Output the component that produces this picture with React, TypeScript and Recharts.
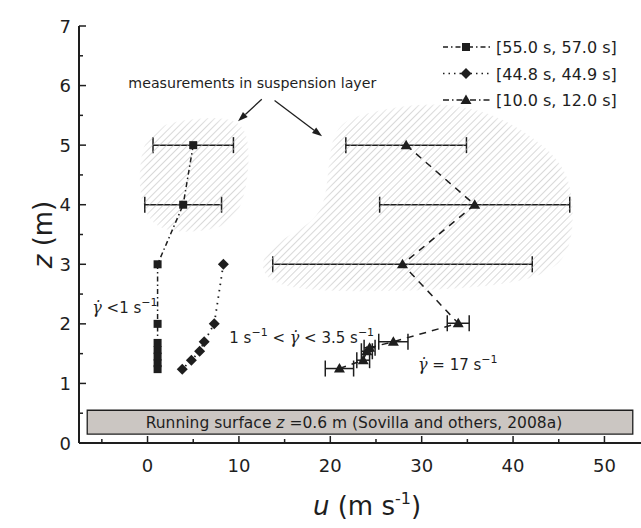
import React from 'react';
import { Curve, ErrorBar, Legend, ReferenceArea, Scatter, ScatterChart, XAxis, YAxis } from 'recharts';

const INK = '#1e1e1e';
const FONT = '"DejaVu Sans", Verdana, sans-serif';

// [55.0 s, 57.0 s]
const lateZ = [5, 4, 3, 2, 1.68, 1.56, 1.45, 1.34, 1.24];
const lateU = [5.0, 3.9, 1.1, 1.1, 1.1, 1.1, 1.1, 1.1, 1.1];
const lateErr = [4.4, 4.2, 0, 0, 0, 0, 0, 0, 0];

// [44.8 s, 44.9 s]
const midZ = [3.0, 2.0, 1.7, 1.54, 1.39, 1.24];
const midU = [8.3, 7.3, 6.2, 5.7, 4.8, 3.8];

// [10.0 s, 12.0 s]
const earlyZ = [5, 4, 3, 2.01, 1.7, 1.6, 1.54, 1.39, 1.25];
const earlyU = [28.3, 35.8, 27.9, 34.0, 26.9, 24.3, 24.0, 23.6, 21.0];
const earlyErr = [6.6, 10.4, 14.2, 1.2, 1.6, 0.6, 0.6, 0.7, 1.55];

const legendLabels = ['[55.0 s, 57.0 s]', '[44.8 s, 44.9 s]', '[10.0 s, 12.0 s]'];

const xTicks = [-5, 0, 5, 10, 15, 20, 25, 30, 35, 40, 45, 50];
const yTicks = [0, 0.5, 1, 1.5, 2, 2.5, 3, 3.5, 4, 4.5, 5, 5.5, 6, 6.5, 7];

// hatched "suspension layer" outlines, in (u, z)
const blobLeftU = [0.3, 5.7, 10.1, 11.2, 11.0, 9.6, 5.7, 1.4, -0.8, -1.0];
const blobLeftZ = [5.34, 5.47, 5.45, 5.08, 4.33, 3.66, 3.54, 3.54, 3.91, 4.75];
const blobRightU = [19.7, 24.3, 28.7, 34.2, 39.1, 43.5, 46.4, 46.7, 45.7, 41.9, 33.1, 22.2, 14.0, 12.1, 13.4, 17.2, 19.9];
const blobRightZ = [5.36, 5.55, 5.69, 5.69, 5.45, 5.0, 4.5, 3.57, 3.04, 2.7, 2.57, 2.53, 2.6, 2.94, 3.32, 3.61, 3.99];

const arrowLeft = [{ u: 12.5, z: 5.77 }, { u: 9.9, z: 5.4 }];
const arrowRight = [{ u: 13.9, z: 5.75 }, { u: 19.1, z: 5.15 }];

const notes = [
  { u: -2.1, z: 5.96, id: 'suspension' },
  { u: -6.05, z: 2.19, id: 'low' },
  { u: 8.95, z: 1.68, id: 'mid' },
  { u: 29.6, z: 1.22, id: 'high' },
  { u: -0.2, z: 0.25, id: 'surface' },
];

const surface = { u1: -6.6, u2: 53.1, z1: 0.15, z2: 0.55 };

const zip = (u: number[], z: number[], err?: number[]) =>
  u.map((v, i) => ({ u: v, z: z[i], err: err ? err[i] : 0 }));

const lateData = zip(lateU, lateZ, lateErr);
const midData = zip(midU, midZ);
const earlyData = zip(earlyU, earlyZ, earlyErr);
const blobLeft = zip(blobLeftU, blobLeftZ);
const blobRight = zip(blobRightU, blobRightZ);

const Square = ({ cx, cy }: any) => <rect x={cx - 4} y={cy - 4} width={8} height={8} fill={INK} />;
const Diamond = ({ cx, cy }: any) => (
  <polygon points={`${cx},${cy - 5.5} ${cx + 5.5},${cy} ${cx},${cy + 5.5} ${cx - 5.5},${cy}`} fill={INK} />
);
const Triangle = ({ cx, cy }: any) => (
  <polygon points={`${cx},${cy - 5.5} ${cx + 5.5},${cy + 4} ${cx - 5.5},${cy + 4}`} fill={INK} />
);
const Nothing = () => <g />;

// hatch fill with softened edges, like the reference
const hatchBlob = (id: string) => (p: any) => (
  <g>
    <defs>
      <pattern id={`${id}-p`} patternUnits="userSpaceOnUse" width={5} height={5} patternTransform="rotate(45)">
        <line x1={0} y1={0} x2={0} y2={5} stroke="#bdbdbd" strokeWidth={1.2} />
      </pattern>
      <filter id={`${id}-f`} x="-20%" y="-20%" width="140%" height="140%">
        <feGaussianBlur stdDeviation={4} />
      </filter>
      <mask id={`${id}-m`}>
        <Curve type="basisClosed" points={p.points} fill="#fff" stroke="none" filter={`url(#${id}-f)`} />
      </mask>
    </defs>
    <Curve type="basisClosed" points={p.points} fill={`url(#${id}-p)`} stroke="none" mask={`url(#${id}-m)`} />
  </g>
);

const renderArrow = (p: any) => {
  const [a, b] = p.points;
  const ang = Math.atan2(b.y - a.y, b.x - a.x);
  const len = 10;
  const hw = 3.5;
  const bx = b.x - Math.cos(ang) * len;
  const by = b.y - Math.sin(ang) * len;
  const nx = -Math.sin(ang) * hw;
  const ny = Math.cos(ang) * hw;
  return (
    <g>
      <line x1={a.x} y1={a.y} x2={bx} y2={by} stroke={INK} strokeWidth={1.3} />
      <polygon points={`${b.x},${b.y} ${bx + nx},${by + ny} ${bx - nx},${by - ny}`} fill={INK} />
    </g>
  );
};

const Gamma = () => (
  <tspan fontFamily='"DejaVu Serif", serif' fontStyle="italic" fontSize={16}>
    {'\u03B3\u0307'}
  </tspan>
);
const Sup = ({ t }: { t: string }) => (
  <tspan dy={-7} fontSize={11}>
    {t}
  </tspan>
);

const renderNote = (p: any) => {
  const { cx, cy, payload } = p;
  const common = { x: cx, y: cy, fontFamily: FONT, fontSize: 15, fill: INK };
  switch (payload.id) {
    case 'suspension':
      return (
        <text {...common} fontSize={14.2}>
          measurements in suspension layer
        </text>
      );
    case 'low':
      return (
        <text {...common}>
          <Gamma />
          <tspan> {'<1 s'}</tspan>
          <Sup t={'\u22121'} />
        </text>
      );
    case 'mid':
      return (
        <text {...common}>
          <tspan>1 s</tspan>
          <Sup t={'\u22121'} />
          <tspan dy={7}>{' < '}</tspan>
          <Gamma />
          <tspan>{' < 3.5 s'}</tspan>
          <Sup t={'\u22121'} />
        </text>
      );
    case 'high':
      return (
        <text {...common}>
          <Gamma />
          <tspan>{' = 17 s'}</tspan>
          <Sup t={'\u22121'} />
        </text>
      );
    default:
      return (
        <text {...common} fontSize={15.5}>
          <tspan>Running surface </tspan>
          <tspan fontStyle="italic">z</tspan>
          <tspan> =0.6 m (Sovilla and others, 2008a)</tspan>
        </text>
      );
  }
};

const XTick = ({ x, y, payload }: any) => {
  const major = payload.value % 10 === 0;
  return (
    <g>
      <line x1={x} x2={x} y1={y} y2={y - (major ? 7 : 4)} stroke={INK} strokeWidth={1.5} />
      {major && (
        <text x={x} y={y + 29} textAnchor="middle" fontFamily={FONT} fontSize={18} fill={INK}>
          {payload.value}
        </text>
      )}
    </g>
  );
};

const TopTick = ({ x, y, payload }: any) => {
  const major = payload.value % 10 === 0;
  return <line x1={x} x2={x} y1={y} y2={y + (major ? 7 : 4)} stroke={INK} strokeWidth={1.5} />;
};

const YTick = ({ x, y, payload }: any) => {
  const major = Number.isInteger(payload.value);
  return (
    <g>
      <line x1={x} x2={x + (major ? 7 : 4)} y1={y} y2={y} stroke={INK} strokeWidth={1.5} />
      {major && (
        <text x={x - 8} y={y + 6.5} textAnchor="end" fontFamily={FONT} fontSize={18} fill={INK}>
          {payload.value}
        </text>
      )}
    </g>
  );
};

const legendStyles = [
  { dash: '5 3 1.5 3', Mark: Square },
  { dash: '1.5 4', Mark: Diamond },
  { dash: '6 3 1.5 3', Mark: Triangle },
];

const LegendBox = () => (
  <svg width={205} height={80}>
    {legendLabels.map((label, i) => {
      const y = 13 + i * 26.5;
      const { dash, Mark } = legendStyles[i];
      return (
        <g key={label}>
          <line x1={7} x2={54} y1={y} y2={y} stroke={INK} strokeWidth={1.5} strokeDasharray={dash} />
          <Mark cx={30} cy={y} />
          <text x={60} y={y + 6} fontFamily={FONT} fontSize={16} fill={INK}>
            {label}
          </text>
        </g>
      );
    })}
  </svg>
);

const YTitle = ({ viewBox }: any) => {
  const cx = viewBox.x + 43;
  const cy = viewBox.y + viewBox.height / 2;
  return (
    <text x={cx} y={cy} transform={`rotate(-90 ${cx} ${cy})`} textAnchor="middle" dy={9} fontFamily={FONT} fontSize={26} fill={INK}>
      <tspan fontStyle="italic">z</tspan>
      <tspan> (m)</tspan>
    </text>
  );
};

const XTitle = ({ viewBox }: any) => (
  <text x={viewBox.x + 288} y={515} textAnchor="middle" fontFamily={FONT} fontSize={26} fill={INK}>
    <tspan fontStyle="italic">u</tspan>
    <tspan> (m s</tspan>
    <tspan dy={-11} fontSize={16}>-1</tspan>
    <tspan dy={11}>)</tspan>
  </text>
);

export default function App() {
  return (
    <div style={{ position: 'absolute', left: 0, top: 0, width: 641, height: 528, background: '#fff' }}>
      <ScatterChart width={641} height={528} margin={{ top: 26, right: 0, bottom: 25, left: 0 }}>
        <XAxis
          dataKey="u"
          type="number"
          domain={[-7.5, 54]}
          allowDataOverflow
          ticks={xTicks}
          interval={0}
          height={60}
          tickSize={0}
          tickMargin={0}
          tickLine={false}
          tick={<XTick />}
          axisLine={{ stroke: INK, strokeWidth: 2 }}
          label={{ content: <XTitle /> }}
        />
        <XAxis
          xAxisId="top"
          orientation="top"
          dataKey="u"
          type="number"
          domain={[-7.5, 54]}
          allowDataOverflow
          ticks={xTicks}
          interval={0}
          height={0}
          tickSize={0}
          tickMargin={0}
          tickLine={false}
          tick={<TopTick />}
          axisLine={{ stroke: INK, strokeWidth: 2 }}
        />
        <YAxis
          dataKey="z"
          type="number"
          domain={[0, 7]}
          allowDataOverflow
          ticks={yTicks}
          interval={0}
          width={79}
          tickSize={0}
          tickMargin={0}
          tickLine={false}
          tick={<YTick />}
          axisLine={{ stroke: INK, strokeWidth: 2 }}
          label={{ content: <YTitle /> }}
        />
        <Legend layout="vertical" align="center" verticalAlign="middle" content={<LegendBox />} wrapperStyle={{ left: 436, top: 34, width: 205 }} />

        <Scatter data={blobLeft} shape={<Nothing />} line={hatchBlob('hatchL')} isAnimationActive={false} />
        <Scatter data={blobRight} shape={<Nothing />} line={hatchBlob('hatchR')} isAnimationActive={false} />

        <ReferenceArea x1={surface.u1} x2={surface.u2} y1={surface.z1} y2={surface.z2} fill="#cbc6c2" fillOpacity={1} stroke={INK} strokeWidth={1.3} />

        <Scatter data={lateData} shape={<Square />} line={{ stroke: INK, strokeWidth: 1.5, strokeDasharray: '5 3 1.5 3' }} isAnimationActive={false}>
          <ErrorBar dataKey="err" direction="x" width={8} stroke={INK} strokeWidth={1.5} />
        </Scatter>
        <Scatter data={midData} shape={<Diamond />} line={{ stroke: INK, strokeWidth: 1.8, strokeDasharray: '1.5 5' }} isAnimationActive={false} />
        <Scatter data={earlyData} shape={<Triangle />} line={{ stroke: INK, strokeWidth: 1.5, strokeDasharray: '7 6' }} isAnimationActive={false}>
          <ErrorBar dataKey="err" direction="x" width={8} stroke={INK} strokeWidth={1.5} />
        </Scatter>

        <Scatter data={arrowLeft} shape={<Nothing />} line={renderArrow} isAnimationActive={false} />
        <Scatter data={arrowRight} shape={<Nothing />} line={renderArrow} isAnimationActive={false} />
        <Scatter data={notes} shape={renderNote} isAnimationActive={false} />
      </ScatterChart>
    </div>
  );
}
